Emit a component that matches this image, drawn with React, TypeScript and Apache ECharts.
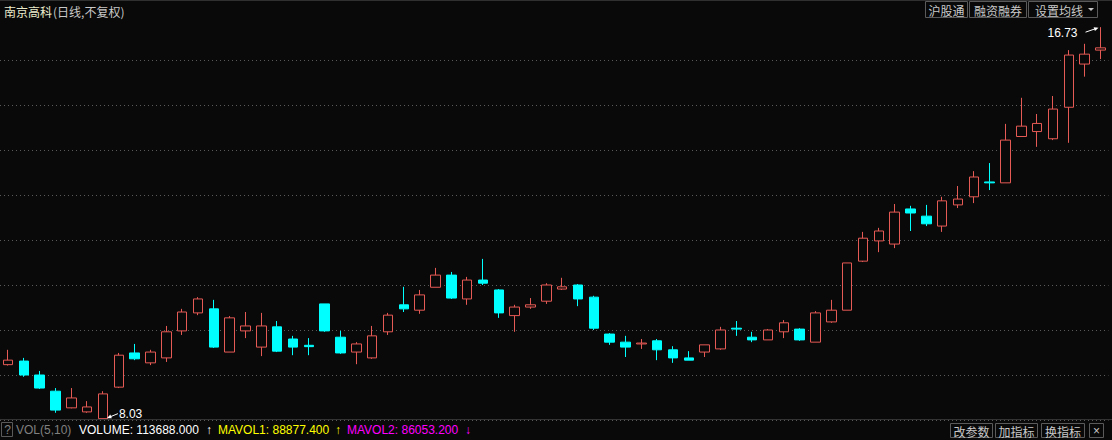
import React, { useEffect, useRef } from "react";
import * as echarts from "echarts";

// ---- data ----
const categories: string[] = Array.from({ length: 70 }, (_, i) => `D${i + 1}`);

const opens = [
  9.23, 9.31, 9.0, 8.64, 8.27, 8.18, 8.03, 8.73, 9.49, 9.27,
  9.38, 9.98, 10.38, 10.47, 9.51, 9.98, 9.62, 10.07, 9.8, 9.66,
  10.58, 9.84, 9.51, 9.38, 9.96, 10.56, 10.44, 10.95, 11.22, 10.69,
  11.11, 10.89, 10.32, 10.51, 10.64, 10.91, 11.0, 10.73, 9.91, 9.73,
  9.69, 9.76, 9.56, 9.38, 9.51, 9.58, 10.04, 9.84, 9.78, 9.96,
  10.02, 9.73, 10.18, 10.44, 11.53, 11.98, 11.91, 12.69, 12.53, 12.31,
  12.78, 12.96, 13.29, 13.27, 14.3, 14.41, 14.25, 14.95, 15.91, 16.22,
];
const closes = [
  9.33, 9.0, 8.71, 8.22, 8.49, 8.29, 8.58, 9.44, 9.36, 9.51,
  9.96, 10.4, 10.69, 9.62, 10.27, 10.09, 10.09, 9.53, 9.62, 9.63,
  9.98, 9.49, 9.69, 9.87, 10.33, 10.47, 10.78, 11.22, 10.71, 11.11,
  11.04, 10.38, 10.51, 10.56, 11.0, 10.96, 10.69, 10.04, 9.73, 9.62,
  9.71, 9.56, 9.38, 9.33, 9.67, 10.0, 10.02, 9.78, 10.0, 10.16,
  9.78, 10.38, 10.44, 11.49, 12.04, 12.2, 12.62, 12.6, 12.36, 12.87,
  12.91, 13.4, 13.27, 14.22, 14.53, 14.59, 14.91, 16.11, 16.13, 16.27,
];
const lows = [
  9.21, 8.96, 8.69, 8.16, 8.26, 8.16, 8.03, 8.71, 9.33, 9.22,
  9.29, 9.89, 10.33, 9.6, 9.51, 9.82, 9.42, 9.51, 9.44, 9.44,
  9.96, 9.47, 9.24, 9.36, 9.89, 10.4, 10.36, 10.95, 10.69, 10.56,
  11.0, 10.27, 9.96, 10.47, 10.58, 10.89, 10.53, 10.0, 9.67, 9.4,
  9.58, 9.33, 9.27, 9.33, 9.4, 9.56, 9.87, 9.73, 9.78, 9.82,
  9.76, 9.73, 10.16, 10.44, 11.51, 11.73, 11.82, 12.2, 12.31, 12.18,
  12.71, 12.82, 13.11, 13.27, 14.3, 14.07, 14.22, 14.16, 15.63, 16.02,
];
const highs = [
  9.56, 9.38, 9.09, 8.71, 8.71, 8.42, 8.64, 9.49, 9.69, 9.56,
  10.09, 10.47, 10.73, 10.67, 10.31, 10.4, 10.38, 10.2, 9.87, 9.82,
  10.58, 9.98, 9.73, 10.09, 10.38, 10.96, 10.89, 11.38, 11.29, 11.18,
  11.58, 10.91, 10.56, 10.71, 11.04, 11.16, 11.02, 10.76, 9.93, 9.87,
  9.8, 9.8, 9.64, 9.53, 9.67, 10.07, 10.2, 9.96, 10.02, 10.22,
  10.04, 10.42, 10.67, 11.49, 12.18, 12.27, 12.8, 12.76, 12.78, 12.96,
  13.2, 13.53, 13.71, 14.58, 15.16, 14.8, 15.2, 16.22, 16.36, 16.73,
];

const stockName = "南京高科";
const chartMode = "(日线,不复权)";
const topButtons = ["沪股通", "融资融券", "设置均线"];
const bottomButtons = ["改参数", "加指标", "换指标", "×"];
const volName = "VOL(5,10)";
const volumeText = "VOLUME: 113688.000";
const mavol1Text = "MAVOL1: 88877.400";
const mavol2Text = "MAVOL2: 86053.200";

const BG = "#090909";
const UP = "#e65a55";
const DOWN = "#00ffff";
const CJK = "'Noto Sans CJK SC', sans-serif";
const LAT = "'Liberation Sans', 'DejaVu Sans', Arial, sans-serif";

function arrow(sx: number, sy: number, tx: number, ty: number, color: string) {
  const dx = tx - sx;
  const dy = ty - sy;
  const len = Math.sqrt(dx * dx + dy * dy) || 1;
  const ux = dx / len;
  const uy = dy / len;
  const nx = -uy;
  const ny = ux;
  const hl = 4.5;
  const hw = 2;
  return [
    {
      type: "line",
      shape: { x1: sx, y1: sy, x2: tx - ux * 2, y2: ty - uy * 2 },
      style: { stroke: color, lineWidth: 1 },
      z: 50,
    },
    {
      type: "polygon",
      shape: {
        points: [
          [tx, ty],
          [tx - ux * hl + nx * hw, ty - uy * hl + ny * hw],
          [tx - ux * hl - nx * hw, ty - uy * hl - ny * hw],
        ],
      },
      style: { fill: color },
      z: 50,
    },
  ];
}

function button(x: number, y: number, w: number, h: number, label: string, font = CJK) {
  return [
    {
      type: "rect",
      shape: { x: x + 0.5, y: y + 0.5, width: w, height: h },
      style: { fill: "none", stroke: "#5a5a5a", lineWidth: 1 },
      z: 40,
    },
    {
      type: "text",
      x: x + w / 2 + 0.5,
      y: y + h / 2 + 1,
      style: {
        text: label,
        fill: "#c8c8c8",
        font: `12px ${font}`,
        align: "center",
        verticalAlign: "middle",
      },
      z: 41,
    },
  ];
}

export default function App() {
  const ref = useRef<HTMLDivElement>(null);

  useEffect(() => {
    if (!ref.current) return;
    const chart = echarts.init(ref.current, null, { renderer: "svg" });
    const data = opens.map((o, i) => [o, closes[i], lows[i], highs[i]]);

    chart.setOption({
      animation: false,
      backgroundColor: BG,
      grid: { left: -1.4, top: 60, width: 1109.85, height: 360 },
      xAxis: {
        type: "category",
        data: categories,
        boundaryGap: true,
        show: false,
      },
      yAxis: {
        type: "value",
        min: 8,
        max: 16,
        interval: 1,
        axisLine: { show: false },
        axisTick: { show: false },
        axisLabel: { show: false },
        splitLine: { show: true, lineStyle: { color: "#5a5a5a", type: [1, 3], width: 1 } },
      },
      series: [
        {
          type: "candlestick",
          data,
          barWidth: 10,
          clip: false,
          itemStyle: {
            color: BG,
            color0: DOWN,
            borderColor: UP,
            borderColor0: DOWN,
            borderWidth: 1,
          },
        },
      ],
    });

    const maxVal = Math.max(...highs);
    const maxIdx = highs.indexOf(maxVal);
    const minVal = Math.min(...lows);
    const minIdx = lows.indexOf(minVal);
    const pMax = chart.convertToPixel({ gridIndex: 0 }, [maxIdx, maxVal]) as number[];
    const pMin = chart.convertToPixel({ gridIndex: 0 }, [minIdx, minVal]) as number[];

    const graphics: any[] = [];
    // frame lines
    graphics.push({
      type: "line",
      shape: { x1: 0, y1: 0.5, x2: 1112, y2: 0.5 },
      style: { stroke: "#303030", lineWidth: 1 },
      z: 30,
    });
    graphics.push({
      type: "line",
      shape: { x1: 0, y1: 419.5, x2: 1112, y2: 419.5 },
      style: { stroke: "#333333", lineWidth: 1 },
      z: 30,
    });
    // title
    graphics.push({
      type: "text",
      x: 4,
      y: 11,
      style: { text: stockName, fill: "#ececcc", font: `12px ${CJK}`, verticalAlign: "middle" },
      z: 40,
    });
    graphics.push({
      type: "text",
      x: 53,
      y: 11,
      style: { text: chartMode, fill: "#c8c8c8", font: `12px ${CJK}`, verticalAlign: "middle" },
      z: 40,
    });
    // top buttons
    graphics.push(...button(925, 1, 42, 16, topButtons[0]));
    graphics.push(...button(969, 1, 57, 16, topButtons[1]));
    graphics.push({
      type: "rect",
      shape: { x: 1028.5, y: 1.5, width: 69, height: 16 },
      style: { fill: "none", stroke: "#5a5a5a", lineWidth: 1 },
      z: 40,
    });
    graphics.push({
      type: "text",
      x: 1035,
      y: 10,
      style: { text: topButtons[2], fill: "#c8c8c8", font: `12px ${CJK}`, verticalAlign: "middle" },
      z: 41,
    });
    graphics.push({
      type: "polygon",
      shape: { points: [[1088, 8], [1094, 8], [1091, 11]] },
      style: { fill: "#c8c8c8" },
      z: 41,
    });
    // max / min annotations
    graphics.push(...arrow(pMax[0] - 15, pMax[1] + 5, pMax[0] - 2, pMax[1] + 0.5, "#ffffff"));
    graphics.push({
      type: "text",
      x: pMax[0] - 23,
      y: pMax[1] + 6,
      style: {
        text: maxVal.toFixed(2),
        fill: "#ffffff",
        font: `12px ${LAT}`,
        align: "right",
        verticalAlign: "middle",
      },
      z: 50,
    });
    graphics.push(...arrow(pMin[0] + 15, pMin[1] - 5, pMin[0] + 4, pMin[1] - 0.5, "#ffffff"));
    graphics.push({
      type: "text",
      x: pMin[0] + 16,
      y: pMin[1] - 4.5,
      style: {
        text: minVal.toFixed(2),
        fill: "#ffffff",
        font: `12px ${LAT}`,
        align: "left",
        verticalAlign: "middle",
      },
      z: 50,
    });
    // bottom bar
    graphics.push({
      type: "rect",
      shape: { x: 1.5, y: 422.5, width: 11, height: 14 },
      style: { fill: "none", stroke: "#5a5a5a", lineWidth: 1 },
      z: 40,
    });
    graphics.push({
      type: "text",
      x: 7.5,
      y: 430,
      style: { text: "?", fill: "#808080", font: `12px ${LAT}`, align: "center", verticalAlign: "middle" },
      z: 41,
    });
    const bottomTexts: [number, string, string][] = [
      [16, volName, "#808080"],
      [79, volumeText, "#ffffff"],
      [206, "↑", "#ffffff"],
      [218, mavol1Text, "#ffff00"],
      [335, "↑", "#ffff00"],
      [347, mavol2Text, "#ff00ff"],
      [465, "↓", "#ff00ff"],
    ];
    bottomTexts.forEach(([x, t, c]) => {
      graphics.push({
        type: "text",
        x,
        y: 430,
        style: { text: t, fill: c, font: `12px ${LAT}`, verticalAlign: "middle" },
        z: 40,
      });
    });
    graphics.push(...button(950, 423, 42, 14, bottomButtons[0]));
    graphics.push(...button(995, 423, 42, 14, bottomButtons[1]));
    graphics.push(...button(1041, 423, 43, 14, bottomButtons[2]));
    graphics.push(...button(1089, 423, 14, 14, bottomButtons[3], LAT));

    chart.setOption({ graphic: graphics });

    return () => chart.dispose();
  }, []);

  return (
    <div
      ref={ref}
      style={{ position: "fixed", left: 0, top: 0, width: 1112, height: 440 }}
    />
  );
}
